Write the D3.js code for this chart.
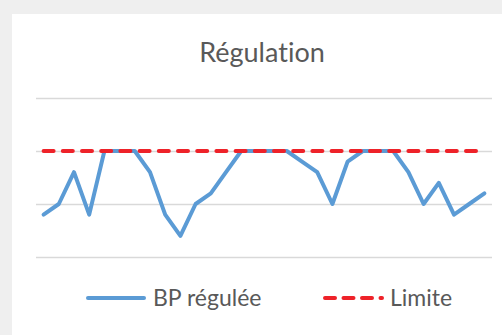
<!DOCTYPE html>
<html>
<head>
<meta charset="utf-8">
<script src="https://cdn.jsdelivr.net/npm/d3@7/dist/d3.min.js"></script>
<style>
  html, body { margin: 0; padding: 0; background: #efefef; }
  svg { display: block; }
  svg text { font-variant-ligatures: none; font-feature-settings: "liga" 0, "clig" 0; }
</style>
</head>
<body>
<svg id="chart" width="502" height="335"></svg>
<script>
// Regulated pressure readings and the fixed limit
const samples = d3.range(30);
const bpRegulee = [4, 5, 8, 4, 10, 10, 10, 8, 4, 2, 5, 6, 8, 10, 10, 10, 10, 9, 8, 5, 9, 10, 10, 10, 8, 5, 7, 4, 5, 6];
const limite = samples.map(() => 10);
const yTicks = [0, 5, 10, 15];
const seriesNames = ["BP régulée", "Limite"];

const svg = d3.select("#chart");

// white card
svg.append("rect").attr("x", 12).attr("y", 14).attr("width", 490).attr("height", 321).attr("fill", "#ffffff");

const plot = { left: 36, right: 492, top: 98, bottom: 257 };

const x = d3.scalePoint().domain(samples).range([plot.left, plot.right]).padding(0.5);
const y = d3.scaleLinear().domain([0, 15]).range([plot.bottom, plot.top]);

// horizontal gridlines
const yAxis = d3.axisLeft(y).tickValues(yTicks).tickSize(-(plot.right - plot.left)).tickFormat("");
const gAxis = svg.append("g").attr("transform", `translate(${plot.left},0)`).call(yAxis);
gAxis.select(".domain").remove();
gAxis.selectAll(".tick line").attr("stroke", "#d9d9d9").attr("stroke-width", 1.6);

// title
svg.append("text")
  .attr("x", 262).attr("y", 61.5)
  .attr("text-anchor", "middle")
  .attr("font-family", "Lato, 'Open Sans', sans-serif")
  .attr("font-size", 27)
  .attr("fill", "#595959")
  .text("Régulation");

const line = d3.line().x((d, i) => x(i)).y(d => y(d));

svg.append("path")
  .datum(bpRegulee)
  .attr("d", line)
  .attr("fill", "none")
  .attr("stroke", "#5b9bd5")
  .attr("stroke-width", 4)
  .attr("stroke-linejoin", "round")
  .attr("stroke-linecap", "round");

svg.append("path")
  .datum(limite)
  .attr("d", line)
  .attr("fill", "none")
  .attr("stroke", "#ee2229")
  .attr("stroke-width", 4)
  .attr("stroke-linecap", "round")
  .attr("stroke-dasharray", "10 9.2");

// legend
const legendY = 298;
const legend = svg.append("g");
legend.append("line")
  .attr("x1", 88).attr("x2", 144).attr("y1", legendY).attr("y2", legendY)
  .attr("stroke", "#5b9bd5").attr("stroke-width", 4).attr("stroke-linecap", "round");
legend.append("text")
  .attr("x", 153).attr("y", 306)
  .attr("font-family", "Lato, 'Open Sans', sans-serif")
  .attr("font-size", 23)
  .attr("fill", "#595959")
  .text(seriesNames[0]);

legend.append("line")
  .attr("x1", 325).attr("x2", 382).attr("y1", legendY).attr("y2", legendY)
  .attr("stroke", "#ee2229").attr("stroke-width", 4).attr("stroke-linecap", "round")
  .attr("stroke-dasharray", "10 8.5");
legend.append("text")
  .attr("x", 390).attr("y", 306)
  .attr("font-family", "Lato, 'Open Sans', sans-serif")
  .attr("font-size", 23)
  .attr("fill", "#595959")
  .text(seriesNames[1]);
</script>
</body>
</html>
